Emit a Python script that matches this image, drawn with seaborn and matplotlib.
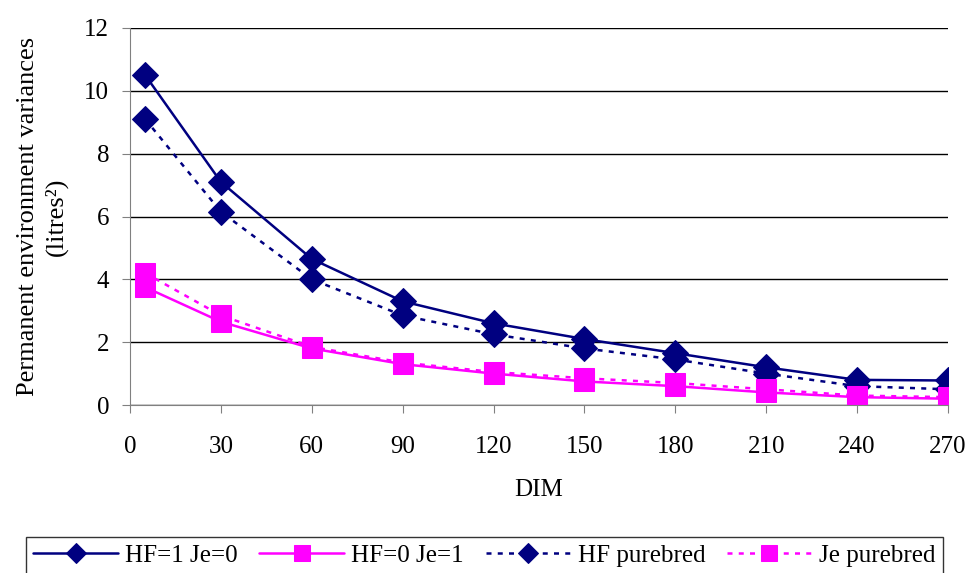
import matplotlib
matplotlib.use("Agg")
import matplotlib.pyplot as plt
import seaborn as sns
import pandas as pd

# DIM points
dim = [5, 30, 60, 90, 120, 150, 180, 210, 240, 270]
# permanent environment variances
hf1_je0 = [10.5, 7.1, 4.65, 3.3, 2.6, 2.1, 1.65, 1.2, 0.8, 0.78]
hf0_je1 = [3.75, 2.65, 1.8, 1.3, 1.0, 0.75, 0.6, 0.4, 0.25, 0.2]
hf_pure = [9.1, 6.15, 4.0, 2.85, 2.25, 1.8, 1.45, 1.0, 0.6, 0.5]
je_pure = [4.2, 2.85, 1.85, 1.35, 1.05, 0.85, 0.7, 0.5, 0.3, 0.25]
names = ['HF=1 Je=0', 'HF=0 Je=1', 'HF purebred', 'Je purebred']

navy = '#000080'
pink = '#FF00FF'

sns.set_style("white")
plt.rcParams['font.family'] = ['Liberation Serif', 'DejaVu Serif']
plt.rcParams['text.color'] = 'black'
plt.rcParams['axes.labelcolor'] = 'black'

fig = plt.figure(figsize=(9.68, 5.73), dpi=100)
ax = fig.add_axes([130 / 968, 1 - 405 / 573, 818 / 968, 377 / 573])

df = pd.DataFrame({'DIM': dim * 4,
                   'value': hf1_je0 + hf0_je1 + hf_pure + je_pure,
                   'series': [n for n in names for _ in dim]})

styles = {
    'HF=1 Je=0': dict(color=navy, marker='D', ls='-', ms=13),
    'HF=0 Je=1': dict(color=pink, marker='s', ls='-', ms=14),
    'HF purebred': dict(color=navy, marker='D', ls=(0, (2, 2.5)), ms=13),
    'Je purebred': dict(color=pink, marker='s', ls=(0, (2, 2.5)), ms=14),
}

for n in names:
    st = styles[n]
    sub = df[df['series'] == n]
    sns.lineplot(data=sub, x='DIM', y='value', ax=ax, color=st['color'],
                 marker=st['marker'], markersize=st['ms'], linestyle=st['ls'],
                 linewidth=1.8, markeredgecolor=st['color'], label=n)

ax.set_xlim(0, 270)
ax.set_ylim(0, 12)
ax.set_xticks(range(0, 271, 30))
ax.set_yticks(range(0, 13, 2))
ax.yaxis.grid(True, color='black', lw=1)
ax.xaxis.grid(False)
for s in ['top', 'right']:
    ax.spines[s].set_visible(False)
ax.spines['left'].set_color('#808080')
ax.spines['bottom'].set_color('#808080')
ax.tick_params(axis='both', labelsize=18, direction='out', length=5.5,
               color='#808080', labelcolor='black', bottom=True, left=True)
ax.tick_params(axis='x', pad=17)
ax.tick_params(axis='y', pad=9.5)
ax.set_xlabel('DIM', fontsize=18, labelpad=15)
ax.set_ylabel('Permanent environment variances\n(litres²)', fontsize=19,
              labelpad=12, linespacing=1.3)

leg = ax.legend(loc='upper center', bbox_to_anchor=(0.433, -0.350),
                borderaxespad=0, ncol=4,
                prop={'family': ['Liberation Serif', 'DejaVu Serif'], 'size': 18},
                frameon=True, fancybox=False, edgecolor='black',
                handlelength=3.4, handletextpad=0.28, columnspacing=0.86,
                borderpad=0.3, markerscale=0.8)
leg.get_frame().set_linewidth(1)

fig.savefig('out.png', dpi=100)
